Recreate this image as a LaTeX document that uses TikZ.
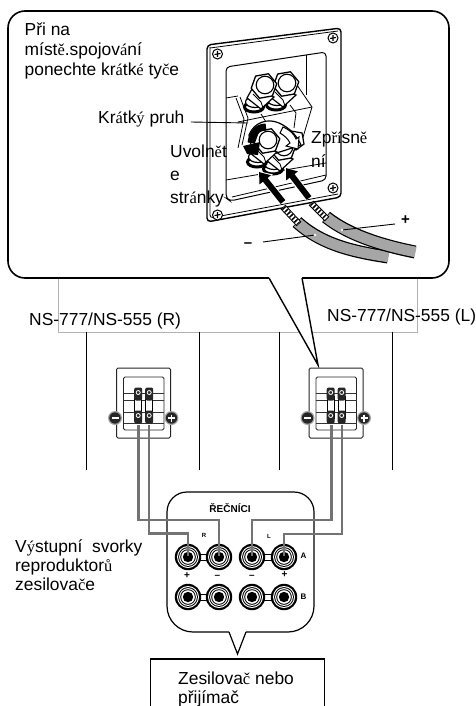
\documentclass[tikz,border=0pt]{standalone}
\usepackage{fontspec}
\setmainfont{Liberation Sans}
\newfontfamily\srf{Liberation Serif}
\usetikzlibrary{arrows.meta,calc}
\newcommand{\sr}[1]{{\srf\fontsize{16.5}{20}\selectfont #1}}
\tikzset{
  lbl/.style={anchor=base west,inner sep=0pt,font=\fontsize{17.4}{20}\selectfont},
  tiny/.style={inner sep=0pt,font=\bfseries\fontsize{6}{6}\selectfont},
  sym/.style={inner sep=0pt,font=\bfseries\fontsize{10}{10}\selectfont},
  bigsym/.style={inner sep=0pt,font=\bfseries\fontsize{15}{15}\selectfont},
  ln/.style={line width=1.2pt,black},
  thin line/.style={line width=0.8pt,black},
  wire/.style={line width=2.6pt,black!55,line join=miter},
  bigarrow/.style={line width=6pt,-{Triangle[length=10pt,width=14pt]}},
  halo/.style={line width=8pt,white,-{Triangle[length=12pt,width=18pt]}}
}
\newcommand{\hexn}[4][0]{\path[draw=black,line width=1.3pt,fill=white,line join=round,shift={(#2,#3)},rotate=#1]
  (0:#4)--(60:#4)--(120:#4)--(180:#4)--(240:#4)--(300:#4)--cycle;}
\newcommand{\bpost}[2]{%
  \begin{scope}[shift={(#1,#2)}]
   \draw[line width=3pt,fill=white] (-10,21) ellipse (9.5 and 5);
   \draw[line width=1.2pt,fill=white] (-9,16) ellipse (9.5 and 5.5);
   \draw[ln,fill=white] (-12,3) -- (-17,12) -- (-3,23) -- (10,11) -- cycle;
   \draw[thin line] (-11,8) -- (-3,16) -- (-1,22);
   \hexn[10]{0}{0}{13}
   \draw[line width=1.1pt,fill=white] (1,-1) circle (8.8);
  \end{scope}}
\newcommand{\screw}[2]{\draw[line width=1pt,fill=white] (#1,#2) circle (5);
  \draw[line width=1.1pt] (#1-3,#2+.5) -- (#1+3,#2-.5) (#1,#2-3) -- (#1,#2+3);}
\newcommand{\spk}[2]{%
  \begin{scope}[shift={(#1,0)}]
   \draw[line width=1pt,black!85,fill=white,rounded corners=1.5pt] (0,368) rectangle (54,438);
   \draw[thin line,black!85,rounded corners=1.5pt] (7,377) rectangle (47.5,430);
   \foreach \yy in {393,400,412,423} \draw[line width=.7pt,black!80] (7,\yy) -- (47.5,\yy);
   \foreach \xx in {21.7,32.7}{
     \draw[line width=.9pt,fill=white] (\xx-3.6,396) rectangle (\xx+3.6,418);
     \foreach \yy in {394,417}{
      \fill[black!85,rounded corners=2pt] (\xx-4,\yy-6.5) rectangle (\xx+4,\yy+6.5);
      \draw[white,line width=.8pt] (\xx,\yy-1.5) circle (2);
     }}
   \fill[black!35] (-1.5,418) circle (7);
   \fill[black!85] (-1.5,418) circle (5.7);
   \draw[white,line width=1.3pt] (-5,418) -- (2,418);
   \fill[black!35] (55,418) circle (7);
   \fill[black!85] (55,418) circle (5.7);
   \draw[white,line width=1.3pt] (51.5,418) -- (58.5,418) (55,414.5) -- (55,421.5);
  \end{scope}}
\newcommand{\amppair}[3]{%
  \draw[line width=1pt,fill=white] (#1,#3-3) rectangle (#2,#3+3);
  \foreach \xx in {#1,#2}{
    \fill[black] (\xx,#3) circle (13.2);
    \fill[white] (\xx,#3) circle (11);
    \fill[black] (\xx,#3) circle (9.9);
    \fill[white] (\xx,#3) circle (8.9);
    \fill[black] (\xx,#3) circle (7.8);
    \fill[white] (\xx,#3) circle (6.8);
    \fill[black] (\xx,#3) circle (5.2);
  }}
\begin{document}
\begin{tikzpicture}[x=1pt,y=-1pt]
\useasboundingbox (0,0) rectangle (476,706);
\fill[white] (0,0) rectangle (476,706);
\draw[black!30,line width=.8pt] (58,270) -- (58,332) -- (417,332) -- (417,270);
\foreach \xx in {86.5,199.5,279.5,392.5} \draw[ln] (\xx,332) -- (\xx,470);
\draw[line width=1.6pt,fill=white,rounded corners=17pt] (8,11) rectangle (449,278);
\fill[white] (269,277) -- (318,365) -- (302,277) -- cycle;
\fill[white] (269,278) -- (302,278) -- (302,270) -- (269,270) -- cycle;
\draw[line width=1.4pt,line join=miter] (269,278) -- (318,365) -- (302,278);
\draw[line width=1.4pt,fill=white,rounded corners=4pt] (207,45) -- (341,28) -- (341,197) -- (207,222) -- cycle;
\draw[line width=.8pt,rounded corners=3pt] (210,48) -- (338,31);
\draw[line width=.8pt,rounded corners=3pt] (210,47) -- (210,218) -- (338,194);
\draw[line width=1pt,rounded corners=4pt] (226,67) -- (326,52) -- (326,180) -- (230,201) -- (226,198) -- cycle;
\draw[thin line] (306,55) -- (306,95);
\draw[thin line] (226,98) -- (238,96);
\draw[thin line] (226,180) -- (326,163);
\draw[thin line] (232,197) -- (326,175);
\foreach \p/\q in {217.5/54,333/38,333/188,217.5/215} {\screw{\p}{\q}}
\draw[thin line] (297,85) -- (312,107) -- (301,144);
\draw[thin line] (238,122) -- (312,107);
\draw[thin line] (290,105) -- (296,113) -- (294,128);
\draw[thin line] (261,114) -- (266,122);
\draw[thin line] (236,98) -- (244,119) -- (238,148);
\draw[thin line] (240,97) -- (248,118) -- (242,145);
\bpost{286}{84}
\bpost{264}{86}
\draw[ln,fill=white] (286,130) -- (302,133) -- (304,144) -- (296,150) -- cycle;
\bpost{283}{148}
\draw[ln,fill=white] (249,135) .. controls (254,122) and (268,118) .. (279,123) .. controls (290,128) and (297,136) .. (301,145) -- (286,150) -- (270,155) -- (252,150) -- cycle;
\bpost{267}{141}
\draw[line width=7pt] (266,127) .. controls (256,127) and (252,135) .. (251,143);
\fill[black] (243,146) -- (260,142) -- (258,155) -- (247,154) -- cycle;
\draw[line width=1pt,fill=white] (283,127) .. controls (290,130) and (294,134) .. (296,139) -- (299,137) -- (298,149) -- (286,146) -- (290,143) .. controls (288,139) and (285,136) .. (280,133) -- cycle;
\draw[line width=13pt] (297,222) .. controls (322,245) and (355,252) .. (388,257);
\draw[line width=10.5pt,black!35] (297.5,222.5) .. controls (322,245) and (355,252) .. (388.5,257);
\draw[line width=13pt] (326,217) .. controls (350,236) and (385,246) .. (415,252);
\draw[line width=10.5pt,black!35] (326.5,217.5) .. controls (350,236) and (385,246) .. (415.5,252);
\draw[line width=6.5pt] (283,207) -- (299,224) (311,203) -- (327,219);
\draw[line width=4.5pt,white] (283.5,207.5) -- (298.5,223.5) (311.5,203.5) -- (326.5,218.5);
\draw[line width=4.5pt,dash pattern=on 1.5pt off 2pt] (283.5,207.5) -- (298.5,223.5) (311.5,203.5) -- (326.5,218.5);
\path[draw=white,halo] (283,202) -- (258,171);
\path[draw=white,halo] (309,198) -- (285,168);
\draw[bigarrow] (283,202) -- (259,172);
\draw[bigarrow] (309,198) -- (286,168);
\draw[line width=.9pt] (395,224) -- (342,230);
\draw[line width=.9pt] (263,242) -- (315,235);
\fill[white] (342,230) circle (1.4) (315,235) circle (1.4);
\node[bigsym] (plus) at (405.5,220) {+};
\node[bigsym] (minus) at (248,245) {–};
\draw[line width=.9pt] (191,122) -- (248,123);
\node[lbl] (t1) at (24.5,36) {Při na};
\node[lbl] (t2) at (24.5,56) {míst\sr{ě}.spojov\sr{á}ní};
\node[lbl] (t3) at (24.5,76) {ponechte kr\sr{á}tk\sr{é} ty\sr{č}e};
\node[lbl] (kp) at (98,124) {Kr\sr{á}tk\sr{ý} pruh};
\node[lbl] (u1) at (170,157) {Uvoln\sr{ě}t};
\node[lbl] (u2) at (170,180) {e};
\node[lbl] (u3) at (170,203) {str\sr{á}nky};
\node[lbl] (z1) at (311,143) {Zp\sr{ří}sn\sr{ě}};
\node[lbl] (z2) at (311,167) {ní};
\node[lbl] (nsr) at (29,325) {NS-777/NS-555 (R)};
\node[lbl] (nsl) at (327,321) {NS-777/NS-555 (L)};
\spk{116.5}{a}
\spk{309}{b}
\draw[line width=1.2pt,fill=white,rounded corners=20pt] (167,560) -- (167,492) -- (314,492) -- (314,560) [rounded corners=26pt] -- (314,632) -- (167,632) -- cycle;
\fill[white] (229,631) -- (237.5,654) -- (246,631) -- cycle;
\draw[ln,line join=miter] (229,632) -- (237.5,654) -- (246,632);
\amppair{188}{219}{557}
\amppair{252}{284}{557}
\amppair{188}{219}{597}
\amppair{252}{284}{597}
\draw[wire] (138.2,425) -- (138.2,520) -- (219,520) -- (219,556);
\draw[wire] (149,425) -- (149,533.5) -- (188,533.5) -- (188,556);
\draw[wire] (331.7,425) -- (331.7,520) -- (252,520) -- (252,556);
\draw[wire] (342,425) -- (342,534) -- (284,534) -- (284,556);
\node[inner sep=0pt,font=\bfseries\fontsize{10}{10}\selectfont] (spk) at (230,508) {ŘEČNÍCI};
\node[tiny] (rr) at (204,535) {R};
\node[tiny] (ll) at (269,536) {L};
\node[inner sep=0pt,font=\bfseries\fontsize{8}{8}\selectfont] (aa) at (303.5,556) {A};
\node[inner sep=0pt,font=\bfseries\fontsize{8}{8}\selectfont] (bb) at (303.5,597) {B};
\node[sym] (p1) at (187,576) {+};
\node[sym] (m1) at (217.5,577) {–};
\node[sym] (m2) at (252,577) {–};
\node[sym] (p2) at (284.5,575) {+};
\node[lbl] (v1) at (15,552) {V\sr{ý}stupní\ \ svorky};
\node[lbl] (v2) at (15,571) {reproduktor\sr{ů}};
\node[lbl] (v3) at (15,590) {zesilova\sr{č}e};
\draw[line width=1.6pt] (150.5,708) -- (150.5,659) -- (324.5,659) -- (324.5,708);
\node[lbl] (am1) at (178,684) {Zesilova\sr{č} nebo};
\node[lbl] (am2) at (178,703) {přijímač};
\end{tikzpicture}
\end{document}
